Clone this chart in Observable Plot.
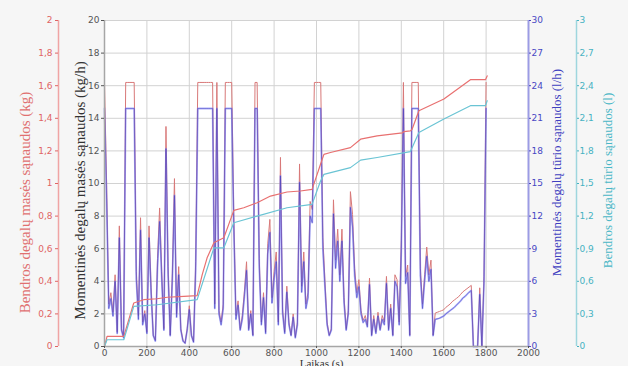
<!DOCTYPE html>
<html><head><meta charset="utf-8">
<script src="https://cdn.jsdelivr.net/npm/d3@7"></script>
<script src="https://cdn.jsdelivr.net/npm/@observablehq/plot@0.6"></script>
<style>
html,body{margin:0;padding:0;background:#f6f6f6;}
#chart{width:628px;height:366px;overflow:hidden;}
</style></head><body><div id="chart"></div>
<script>
// sampling interval of the instantaneous series (s)
const sampleStep = 10;
// Momentinės degalų tūrio sąnaudos (l/h), t = 0 … 1800 s
const instVolume = [
  21.9, 13.5, 3.5, 4.4, 2.8, 6.0, 1.2, 10.0, 1.5, 0.8,
  21.9, 21.9, 21.9, 21.9, 21.9, 6.2, 2.5, 10.7, 2.0, 3.0,
  1.2, 10.0, 4.8, 1.0, 0.5, 7.3, 11.5, 6.2, 1.5, 18.2,
  6.6, 1.0, 6.1, 13.9, 2.7, 6.6, 1.5, 0.5, 0.3, 1.5,
  3.4, 1.0, 0.4, 7.0, 21.9, 21.9, 21.9, 21.9, 21.9, 21.9,
  21.9, 21.9, 3.5, 21.9, 3.0, 2.0, 3.5, 21.9, 21.9, 21.9,
  21.9, 10.8, 2.5, 3.8, 1.5, 2.5, 4.6, 7.0, 1.5, 3.0,
  1.0, 21.9, 21.9, 7.3, 2.0, 4.5, 1.2, 8.5, 10.5, 4.0,
  6.2, 7.8, 2.0, 15.7, 3.1, 1.2, 5.0, 2.0, 1.0, 2.7,
  0.8, 2.0, 15.1, 5.0, 7.8, 3.5, 4.5, 12.0, 11.4, 21.9,
  21.9, 21.9, 21.9, 9.0, 5.4, 2.0, 1.0, 1.5, 12.2, 7.2,
  9.7, 6.0, 9.7, 4.0, 1.5, 3.0, 12.8, 11.0, 6.5, 4.5,
  5.5, 3.0, 2.2, 2.5, 1.8, 5.7, 1.0, 2.5, 1.2, 2.8,
  1.5, 2.5, 2.0, 5.8, 1.5, 3.5, 1.0, 6.0, 5.5, 2.0,
  8.8, 21.9, 5.8, 6.8, 1.0, 21.9, 21.9, 21.9, 21.9, 6.5,
  3.5, 6.0, 8.3, 6.0, 7.1, 1.0, 2.5, 2.55, 2.6, 2.7,
  2.8, 3.0, 3.15, 3.3, 3.45, 3.6, 3.8, 4.0, 4.2, 4.45,
  4.6, 4.8, 5.0, 5.15, 0, 0, 0, 4.8, 0, 5.8,
  21.9
];
// Momentinės degalų masės sąnaudos (kg/h), t = 0 … 1800 s
const instMass = [
  16.2, 10.0, 2.6, 3.3, 2.1, 4.4, 0.9, 7.4, 1.1, 0.6,
  16.2, 16.2, 16.2, 16.2, 16.2, 4.6, 1.9, 7.9, 1.5, 2.2,
  0.9, 7.4, 3.6, 0.7, 0.4, 5.4, 8.5, 4.6, 1.1, 13.5,
  4.9, 0.7, 4.5, 10.3, 2.0, 4.9, 1.1, 0.4, 0.2, 1.1,
  2.5, 0.7, 0.3, 5.2, 16.2, 16.2, 16.2, 16.2, 16.2, 16.2,
  16.2, 16.2, 2.6, 16.2, 2.2, 1.5, 2.6, 16.2, 16.2, 16.2,
  16.2, 8.0, 1.9, 2.8, 1.1, 1.9, 3.4, 5.2, 1.1, 2.2,
  0.7, 16.2, 16.2, 5.4, 1.5, 3.3, 0.9, 6.3, 7.8, 3.0,
  4.6, 5.8, 1.5, 11.6, 2.3, 0.9, 3.7, 1.5, 0.7, 2.0,
  0.6, 1.5, 11.2, 3.7, 5.8, 2.6, 3.3, 8.9, 8.4, 16.2,
  16.2, 16.2, 16.2, 6.7, 4.0, 1.5, 0.7, 1.1, 9.0, 5.3,
  7.2, 4.4, 7.2, 3.0, 1.1, 2.2, 9.5, 8.1, 4.8, 3.3,
  4.1, 2.2, 1.6, 1.9, 1.3, 4.2, 0.7, 1.9, 0.9, 2.1,
  1.1, 1.9, 1.5, 4.3, 1.1, 2.6, 0.7, 4.4, 4.1, 1.5,
  6.5, 16.2, 4.3, 5.0, 0.7, 16.2, 16.2, 16.2, 16.2, 4.8,
  2.6, 4.4, 6.1, 4.4, 5.3, 0.7, 2.05, 2.1, 2.15, 2.2,
  2.25, 2.4, 2.5, 2.6, 2.75, 2.85, 2.95, 3.05, 3.2, 3.35,
  3.45, 3.55, 3.65, 3.75, 0, 0, 0, 3.6, 0, 4.3,
  16.2
];
// Bendros degalų masės sąnaudos (kg)
const totalMassTime = [0, 12, 91, 138, 185, 248, 296, 374, 437, 461, 484, 516, 563, 586, 610, 657, 720, 783, 861, 924, 979, 1003, 1019, 1035, 1066, 1160, 1208, 1286, 1405, 1412, 1443, 1451, 1483, 1601, 1726, 1797, 1805];
const totalMass = [0, 0.062, 0.062, 0.267, 0.287, 0.293, 0.302, 0.308, 0.312, 0.441, 0.544, 0.636, 0.667, 0.749, 0.835, 0.851, 0.882, 0.923, 0.948, 0.954, 0.964, 1.056, 1.118, 1.179, 1.190, 1.220, 1.272, 1.292, 1.310, 1.318, 1.323, 1.333, 1.446, 1.518, 1.637, 1.637, 1.660];
// Bendros degalų tūrio sąnaudos (l)
const totalVolumeTime = [0, 12, 91, 138, 248, 437, 516, 563, 610, 720, 861, 979, 1019, 1035, 1160, 1208, 1286, 1443, 1483, 1601, 1726, 1797, 1805];
const totalVolume = [0, 0.062, 0.062, 0.369, 0.384, 0.431, 0.908, 0.908, 1.139, 1.200, 1.277, 1.308, 1.523, 1.584, 1.646, 1.715, 1.739, 1.794, 1.970, 2.093, 2.216, 2.216, 2.262];

// ticks and labels
const xTicks = [0, 200, 400, 600, 800, 1000, 1200, 1400, 1600, 1800, 2000];
const massRateTicks = [0, 2, 4, 6, 8, 10, 12, 14, 16, 18, 20];
const massTotalLabels = ["0", "0,2", "0,4", "0,6", "0,8", "1", "1,2", "1,4", "1,6", "1,8", "2"];
const volRateLabels = ["0", "3", "6", "9", "12", "15", "18", "21", "24", "27", "30"];
const volTotalLabels = ["0", "0,3", "0,6", "0,9", "1,2", "1,5", "1,8", "2,1", "2,4", "2,7", "3"];

const titleMassTotal = "Bendros degalų masės sąnaudos (kg)";
const titleMassRate = "Momentinės degalų masės sąnaudos (kg/h)";
const titleVolRate = "Momentinės degalų tūrio sąnaudos (l/h)";
const titleVolTotal = "Bendros degalų tūrio sąnaudos (l)";
const titleX = "Laikas (s)";

// build tables; every series is mapped onto the main kg/h axis (0–20)
const instRows = instVolume.map((v, i) => ({t: i * sampleStep, vol: v, mass: instMass[i]}));
const massRows = totalMassTime.map((t, i) => ({t, v: totalMass[i]}));
const volRows = totalVolumeTime.map((t, i) => ({t, v: totalVolume[i]}));
const yMassTotal = d => d.v * 10;        // 0–2 kg  -> 0–20
const yVolRate = d => d.vol * 20 / 30;   // 0–30 l/h -> 0–20
const yVolTotal = d => d.v * 20 / 3;     // 0–3 l   -> 0–20
const lab = arr => d => arr[massRateTicks.indexOf(d)];

const serif = "'Liberation Serif', 'DejaVu Serif', serif";
const red = "#e06464", blue = "#4848c4", teal = "#46b2c2";

const chart = Plot.plot({
  width: 628, height: 366,
  marginLeft: 104, marginRight: 100, marginTop: 20, marginBottom: 20,
  x: {domain: [0, 2000], label: null},
  y: {domain: [0, 20], label: null},
  style: {fontFamily: "'DejaVu Sans', sans-serif", fontSize: "9px", background: "#f6f6f6", overflow: "visible"},
  marks: [
    Plot.frame({fill: "white", stroke: null}),
    Plot.gridX(xTicks, {stroke: "#d2d2d2", strokeOpacity: 1}),
    Plot.gridY(massRateTicks, {stroke: "#d2d2d2", strokeOpacity: 1}),
    Plot.line(instRows, {x: "t", y: "mass", stroke: "#d87878", strokeWidth: 1}),
    Plot.line(instRows, {x: "t", y: yVolRate, stroke: "#7a7af2", strokeWidth: 1.8, strokeOpacity: 0.6}),
    Plot.line(instRows, {x: "t", y: yVolRate, stroke: "#2a2ab8", strokeWidth: 0.6, strokeOpacity: 0.65}),
    Plot.line(massRows, {x: "t", y: yMassTotal, stroke: "#e87070", strokeWidth: 1.2}),
    Plot.line(volRows, {x: "t", y: yVolTotal, stroke: "#6ac4d4", strokeWidth: 1.2}),
    // axis lines
    Plot.ruleX([0], {stroke: "#a6a6a6", strokeWidth: 1.5}),
    Plot.ruleY([0], {stroke: "#a6a6a6", strokeWidth: 1.5}),
    Plot.ruleX([0], {dx: -46, stroke: "#f0a4a4", strokeWidth: 1.5}),
    Plot.ruleX([2000], {stroke: "#9c9ce4", strokeWidth: 2}),
    Plot.ruleX([2000], {dx: 48, stroke: "#9ed6de", strokeWidth: 1.5}),
    // axes
    Plot.axisX(xTicks, {anchor: "bottom", tickSize: 2, tickPadding: 1, color: "#555", tickFormat: d => String(d)}),
    Plot.axisY(massRateTicks, {anchor: "left", tickSize: 3, tickPadding: 2, color: "#555", tickFormat: d => String(d)}),
    Plot.axisY(massRateTicks, {anchor: "left", dx: -46, tickSize: 3, tickPadding: 3, color: red, tickFormat: lab(massTotalLabels)}),
    Plot.axisY(massRateTicks, {anchor: "right", tickSize: 2, tickPadding: 1, color: blue, tickFormat: lab(volRateLabels)}),
    Plot.axisY(massRateTicks, {anchor: "right", dx: 48, tickSize: 2, tickPadding: 1, color: teal, tickFormat: lab(volTotalLabels)}),
    // axis titles
    Plot.text([titleMassTotal], {text: d => d, frameAnchor: "left", textAnchor: "middle", dx: -79, dy: 19, rotate: -90, fill: "#e07070", fontSize: 15, fontFamily: serif}),
    Plot.text([titleMassRate], {text: d => d, frameAnchor: "left", textAnchor: "middle", dx: -24, dy: 7, rotate: -90, fill: "#333", fontSize: 15, fontFamily: serif}),
    Plot.text([titleVolRate], {text: d => d, frameAnchor: "right", textAnchor: "middle", dx: 28, dy: -11, rotate: -90, fill: "#4040c0", fontSize: 13, fontFamily: serif}),
    Plot.text([titleVolTotal], {text: d => d, frameAnchor: "right", textAnchor: "middle", dx: 79, dy: -3, rotate: -90, fill: "#4ab6c6", fontSize: 13, fontFamily: serif}),
    Plot.text([titleX], {text: d => d, frameAnchor: "bottom", dx: 5, dy: 13, lineAnchor: "top", fill: "#333", fontSize: 11, fontFamily: serif})
  ]
});
document.getElementById("chart").appendChild(chart);
</script>
</body></html>
